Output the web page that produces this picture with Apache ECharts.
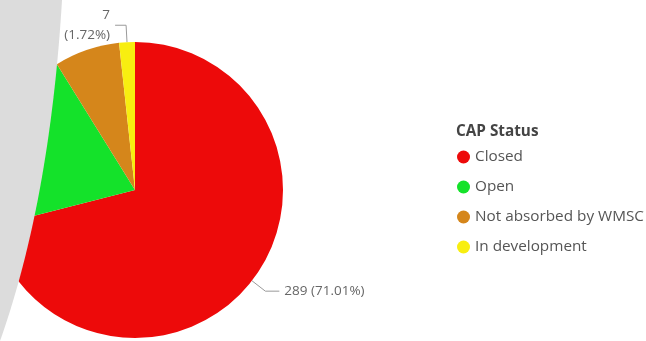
<!DOCTYPE html>
<html>
<head>
<meta charset="utf-8">
<style>
  html, body { margin: 0; padding: 0; background: #ffffff; }
  #chart { width: 646px; height: 341px; }
</style>
<script src="https://cdn.jsdelivr.net/npm/echarts@6/dist/echarts.min.js"></script>
</head>
<body>
<div id="chart"></div>
<script>
// CAP status breakdown
const categories = ['Closed', 'Open', 'Not absorbed by WMSC', 'In development'];
const counts = [289, 82, 29, 7];
const colors = ['#ED0A0A', '#14E22A', '#D5861B', '#F8EE10'];
const labelled = ['Closed', 'In development'];
const legendTitle = 'CAP Status';

const font = '"Segoe UI", "Open Sans", "Noto Sans", sans-serif';

const seriesData = categories.map((name, i) => ({
  name: name,
  value: counts[i],
  itemStyle: { color: colors[i] },
  label: { show: labelled.includes(name) },
  labelLine: {
    show: labelled.includes(name),
    length2: name === 'Closed' ? 14 : 11
  }
}));

// curved edge of the grey side panel (quadratic curve sampled into a polygon)
function panelPoints() {
  const p0 = [62, 0], c = [50, 200], p1 = [0, 341];
  const pts = [[0, 0]];
  for (let i = 0; i <= 40; i++) {
    const t = i / 40, u = 1 - t;
    pts.push([u * u * p0[0] + 2 * u * t * c[0] + t * t * p1[0],
              u * u * p0[1] + 2 * u * t * c[1] + t * t * p1[1]]);
  }
  return pts;
}

const chart = echarts.init(document.getElementById('chart'), null, { renderer: 'canvas' });

chart.setOption({
  animation: false,
  backgroundColor: '#ffffff',
  legend: {
    orient: 'vertical',
    left: 457,
    top: 149,
    padding: 0,
    icon: 'circle',
    itemWidth: 13,
    itemHeight: 13,
    itemGap: 14,
    data: categories,
    textStyle: { color: '#555555', fontSize: 15.3, fontFamily: font, lineHeight: 16 }
  },
  graphic: [
    {
      type: 'text',
      left: 456,
      top: 124,
      style: { text: legendTitle, fill: '#444444', font: 'bold 15.3px ' + font }
    },
    {
      type: 'polygon',
      z: 100,
      shape: { points: panelPoints() },
      style: { fill: '#DCDCDC' }
    }
  ],
  series: [{
    type: 'pie',
    center: [135, 190],
    radius: 148,
    startAngle: 90,
    clockwise: true,
    avoidLabelOverlap: false,
    percentPrecision: 2,
    label: {
      color: '#666666',
      fontSize: 13.5,
      fontFamily: font,
      lineHeight: 20,
      formatter: p => p.name === 'Closed'
        ? p.value + ' (' + p.percent.toFixed(2) + '%)'
        : p.value + '\n(' + p.percent.toFixed(2) + '%)'
    },
    labelLine: {
      length: 17,
      length2: 14,
      lineStyle: { color: '#9a9a9a', width: 1 }
    },
    emphasis: { disabled: true },
    data: seriesData
  }]
});
</script>
</body>
</html>
